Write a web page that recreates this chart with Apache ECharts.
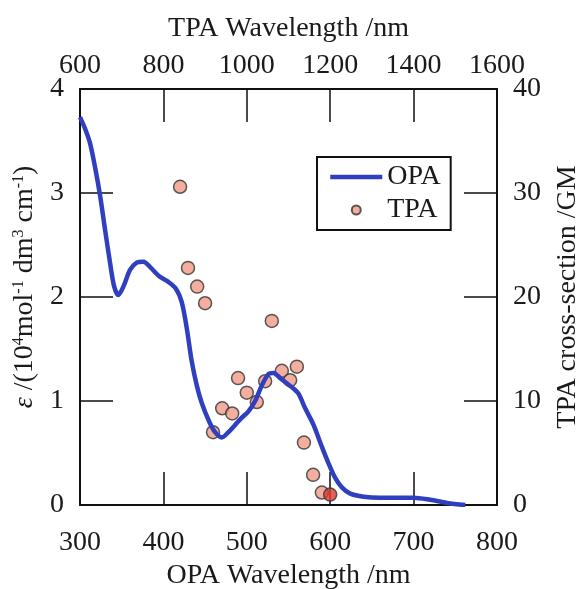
<!DOCTYPE html>
<html>
<head>
<meta charset="utf-8">
<script src="https://cdn.jsdelivr.net/npm/echarts@6/dist/echarts.min.js"></script>
<style>
  html, body { margin: 0; padding: 0; background: #fff; }
  #chartMain { width: 586px; height: 589px; }
</style>
</head>
<body>
<div id="chartMain"></div>
<script>
// OPA absorption spectrum (nm, epsilon / 10^4)
const opaNm = [300, 306, 312, 318, 324, 330, 336, 341, 346, 352, 360, 368, 376, 385, 395, 405, 415, 422, 428, 434, 440, 446, 455, 462, 470, 478, 486, 494, 502, 510, 518, 526, 532, 540, 548, 556, 562, 570, 580, 590, 598, 606, 614, 624, 640, 660, 700, 720, 740, 762];
const opaEps = [3.73, 3.62, 3.48, 3.25, 2.98, 2.65, 2.33, 2.1, 2.02, 2.1, 2.26, 2.33, 2.34, 2.28, 2.2, 2.15, 2.08, 1.95, 1.7, 1.38, 1.15, 0.98, 0.8, 0.7, 0.65, 0.7, 0.77, 0.84, 0.9, 1.0, 1.15, 1.26, 1.27, 1.22, 1.17, 1.12, 1.07, 0.93, 0.77, 0.56, 0.4, 0.26, 0.17, 0.11, 0.08, 0.07, 0.07, 0.05, 0.02, 0.0];

// TPA cross-sections (nm, GM)
const tpaNm = [840, 859, 881, 900, 919, 941, 965, 979, 1000, 1024, 1044, 1060, 1084, 1104, 1120, 1137, 1159, 1180, 1200];
const tpaGM = [30.6, 22.8, 21.0, 19.4, 7.0, 9.3, 8.8, 12.2, 10.8, 9.9, 11.9, 17.7, 12.9, 12.0, 13.3, 6.0, 2.9, 1.2, 1.0];

const bottomTicks = [300, 400, 500, 600, 700, 800];
const topTicks = [600, 800, 1000, 1200, 1400, 1600];

const font = "'Liberation Serif', 'DejaVu Serif', serif";
const ink = '#1a1a1a';

function axisBase(min, max, step) {
  return {
    type: 'value',
    min: min,
    max: max,
    interval: step,
    axisLine: { onZero: false, lineStyle: { color: '#111', width: 2 } },
    axisTick: { inside: true, length: 33, lineStyle: { color: '#111', width: 1.5 } },
    axisLabel: { fontSize: 28, fontFamily: font, color: ink, formatter: function (v) { return String(v); } },
    splitLine: { show: false },
    nameLocation: 'middle',
    nameTextStyle: { fontSize: 28, fontFamily: font, color: ink }
  };
}

const xBottom = axisBase(bottomTicks[0], bottomTicks[bottomTicks.length - 1], 100);
xBottom.position = 'bottom';
xBottom.name = 'OPA Wavelength /nm';
xBottom.nameGap = 57;
xBottom.axisLabel.margin = 24;

const xTop = axisBase(topTicks[0], topTicks[topTicks.length - 1], 200);
xTop.position = 'top';
xTop.name = 'TPA Wavelength /nm';
xTop.nameGap = 46;
xTop.axisLabel.margin = 9;

const yLeft = axisBase(0, 4, 1);
yLeft.position = 'left';
yLeft.name = '{i|ε} /(10{s|4}mol{s|-1} dm{s|3} cm{s|-1})';
yLeft.nameRotate = 90;
yLeft.nameGap = 37;
yLeft.axisLabel.margin = 16;
yLeft.nameTextStyle.lineHeight = 28;
yLeft.nameTextStyle.padding = [0, 0, 0, 20];
yLeft.nameTextStyle.rich = {
  i: { fontStyle: 'italic', fontSize: 28, fontFamily: font, color: ink },
  s: { fontSize: 16, fontFamily: font, color: ink, verticalAlign: 'top' }
};

const yRight = axisBase(0, 40, 10);
yRight.position = 'right';
yRight.name = 'TPA cross-section /GM';
yRight.nameRotate = 90;
yRight.nameGap = 57;
yRight.axisLabel.margin = 16;

const tpaData = tpaNm.map(function (x, i) {
  const item = { value: [x, tpaGM[i]] };
  if (i === tpaNm.length - 1) item.itemStyle = { color: '#e0392e' };
  return item;
});

const chartMain = echarts.init(document.getElementById('chartMain'));
chartMain.setOption({
  animation: false,
  backgroundColor: '#fff',
  grid: { left: 80, right: 89, top: 89, bottom: 84, containLabel: false, outerBoundsMode: 'none' },
  legend: {
    data: [
      { name: 'OPA', itemStyle: { opacity: 0 }, lineStyle: { width: 4.5 } },
      'TPA'
    ],
    orient: 'vertical',
    left: 317,
    top: 157,
    padding: [6, 10, 6, 11],
    itemWidth: 52,
    itemHeight: 9,
    itemGap: 5,
    backgroundColor: '#fff',
    borderColor: '#111',
    borderWidth: 2,
    borderRadius: 0,
    textStyle: { fontSize: 28, fontFamily: font, color: ink }
  },
  xAxis: [xBottom, xTop],
  yAxis: [yLeft, yRight],
  series: [
    {
      name: 'TPA',
      type: 'scatter',
      xAxisIndex: 1,
      yAxisIndex: 1,
      symbol: 'circle',
      symbolSize: 13,
      itemStyle: { color: '#f09a88', borderColor: '#333', borderWidth: 1.5 },
      data: tpaData,
      z: 2
    },
    {
      name: 'OPA',
      type: 'line',
      xAxisIndex: 0,
      yAxisIndex: 0,
      smooth: 0.3,
      showSymbol: false,
      symbol: 'none',
      lineStyle: { color: '#2f3fbf', width: 4.5 },
      itemStyle: { color: '#2f3fbf' },
      data: opaNm.map(function (x, i) { return [x, opaEps[i]]; }),
      z: 3
    }
  ]
});
</script>
</body>
</html>
